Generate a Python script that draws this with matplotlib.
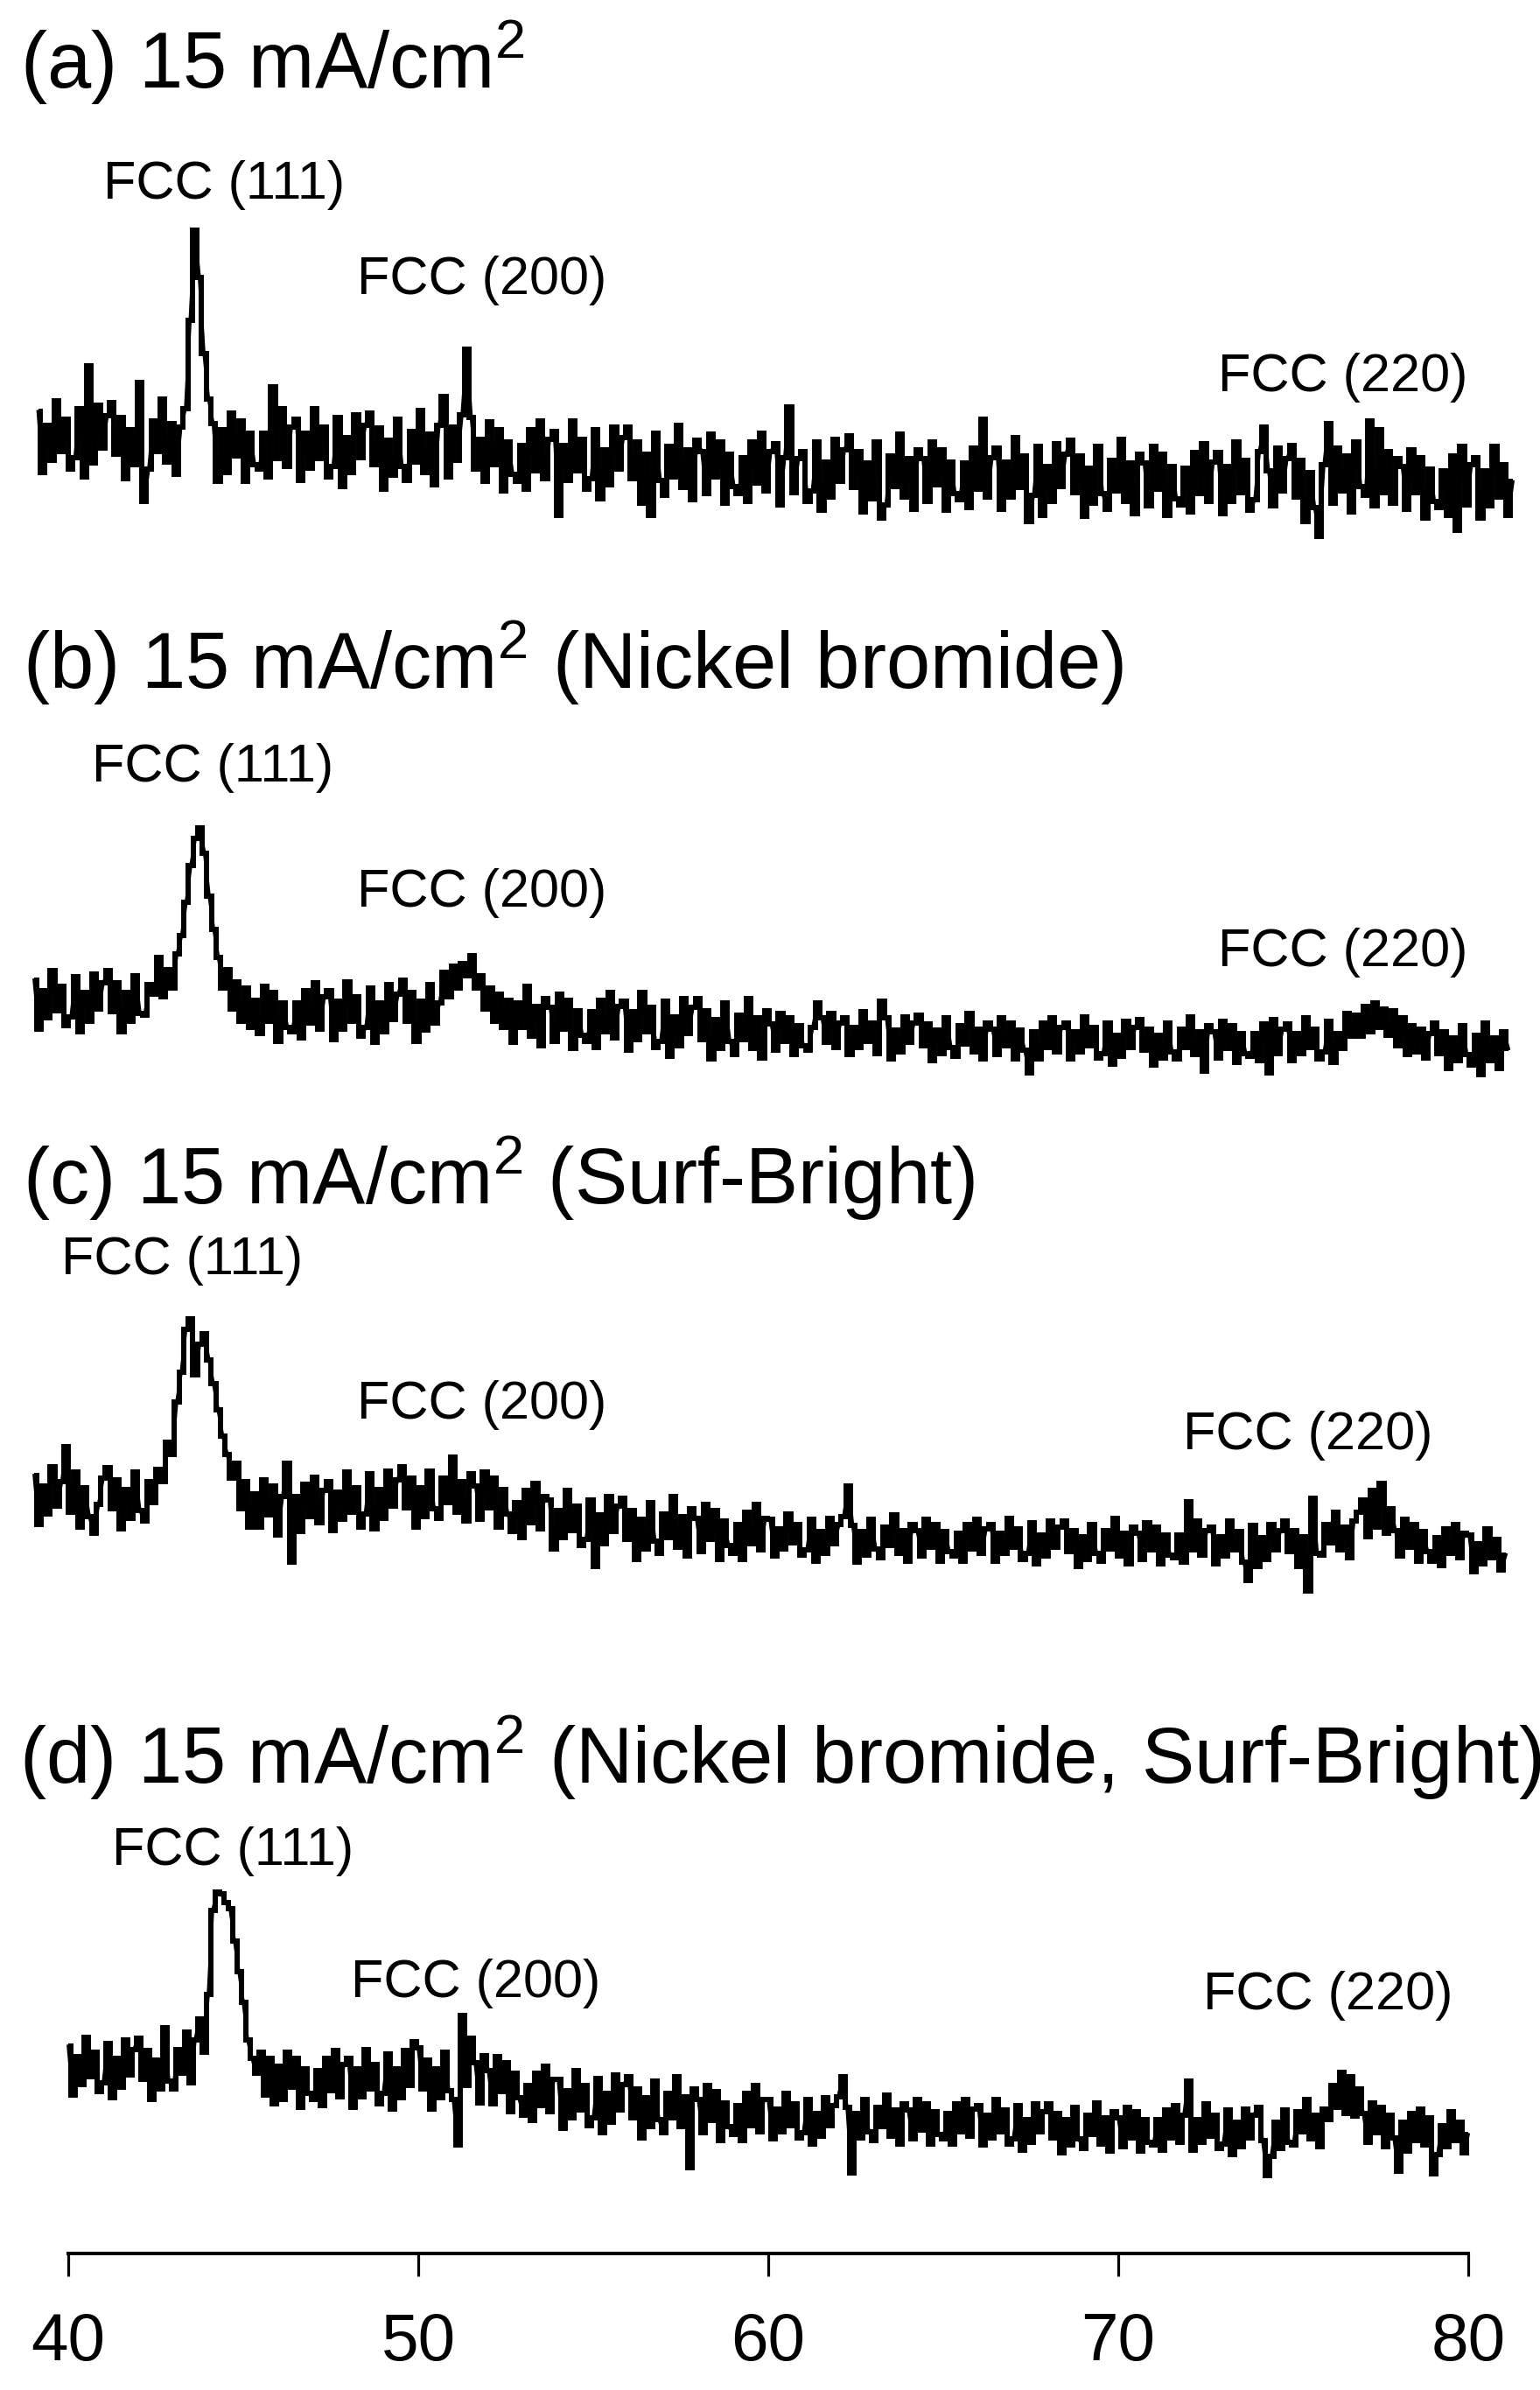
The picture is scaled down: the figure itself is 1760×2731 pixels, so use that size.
import numpy as np
import matplotlib
matplotlib.use("Agg")
import matplotlib.pyplot as plt

plt.rcParams['font.family'] = ['Liberation Sans', 'DejaVu Sans']
plt.rcParams['mathtext.default'] = 'regular'

# ---------------- data (2-theta in degrees, intensity in a.u.) ----------------
two_theta = np.linspace(40, 80, 321)

int_a = [
    90, 50, 81, 58, 97, 64, 85, 52,
    60, 92, 47, 120, 56, 94, 66, 87,
    96, 62, 86, 46, 78, 55, 109, 31,
    52, 84, 64, 98, 57, 82, 49, 80,
    92, 150, 209, 178, 128, 98, 82, 44,
    78, 50, 89, 61, 84, 44, 76, 55,
    52, 76, 47, 106, 59, 92, 54, 80,
    85, 45, 76, 53, 92, 59, 80, 47,
    54, 86, 41, 73, 50, 88, 60, 81,
    89, 55, 79, 39, 71, 48, 85, 54,
    45, 77, 57, 91, 50, 75, 42, 81,
    100, 47, 80, 58, 88, 131, 86, 52,
    72, 44, 83, 55, 78, 38, 70, 49,
    44, 68, 39, 78, 51, 84, 46, 72,
    77, 22, 68, 45, 84, 51, 72, 39,
    46, 78, 33, 65, 42, 80, 52, 73,
    80, 46, 70, 30, 62, 22, 76, 45,
    35, 67, 47, 81, 40, 65, 32, 71,
    64, 36, 75, 47, 70, 30, 62, 41,
    36, 60, 31, 70, 43, 76, 38, 64,
    69, 29, 60, 93, 37, 59, 64, 31,
    38, 70, 25, 57, 34, 72, 44, 65,
    74, 40, 64, 24, 56, 33, 70, 20,
    29, 61, 41, 75, 34, 59, 26, 65,
    59, 31, 70, 42, 65, 25, 57, 36,
    32, 56, 27, 66, 39, 85, 34, 60,
    66, 26, 57, 34, 73, 40, 61, 18,
    35, 67, 22, 54, 31, 69, 41, 62,
    71, 37, 61, 21, 53, 30, 67, 36,
    26, 58, 38, 72, 31, 56, 23, 62,
    56, 28, 67, 39, 62, 22, 54, 33,
    29, 53, 24, 63, 36, 69, 31, 57,
    63, 23, 54, 31, 70, 37, 58, 25,
    32, 64, 80, 51, 28, 66, 38, 59,
    68, 34, 58, 18, 50, 27, 8, 55,
    82, 30, 66, 38, 61, 24, 70, 41,
    35, 84, 28, 78, 37, 64, 30, 59,
    54, 26, 65, 37, 60, 20, 52, 31,
    27, 51, 22, 61, 12, 67, 29, 55,
    60, 20, 51, 28, 67, 34, 55, 22,
    44,
]

int_b = [
    67, 35, 60, 42, 73, 47, 63, 37,
    43, 69, 33, 59, 40, 71, 48, 65,
    73, 46, 65, 33, 59, 40, 70, 45,
    44, 64, 58, 82, 56, 74, 62, 84,
    96, 118, 142, 160, 167, 150, 122, 100,
    82, 62, 74, 48, 66, 40, 62, 36,
    54, 32, 63, 40, 59, 27, 52, 36,
    33, 52, 29, 60, 39, 65, 35, 56,
    60, 28, 53, 35, 66, 40, 56, 30,
    36, 62, 26, 52, 33, 64, 41, 58,
    67, 40, 59, 27, 53, 34, 64, 39,
    52, 72, 56, 76, 62, 78, 70, 83,
    62, 70, 48, 62, 40, 58, 36, 54,
    26, 52, 36, 63, 30, 50, 24, 55,
    49, 27, 58, 35, 54, 22, 47, 31,
    27, 46, 23, 54, 33, 59, 29, 50,
    53, 21, 46, 28, 59, 33, 49, 23,
    27, 53, 17, 43, 24, 55, 32, 49,
    55, 28, 47, 15, 41, 22, 52, 27,
    18, 44, 28, 55, 22, 42, 16, 47,
    38, 21, 45, 27, 42, 18, 37, 24,
    21, 36, 52, 42, 26, 45, 23, 39,
    42, 18, 36, 23, 46, 27, 39, 19,
    53, 42, 15, 34, 20, 43, 26, 39,
    44, 24, 38, 14, 34, 19, 42, 23,
    17, 37, 25, 45, 20, 35, 15, 39,
    35, 18, 42, 24, 39, 15, 34, 21,
    6, 33, 15, 39, 23, 42, 20, 36,
    39, 15, 33, 20, 43, 24, 36, 16,
    19, 39, 12, 31, 17, 40, 23, 36,
    41, 21, 35, 11, 31, 16, 39, 20,
    15, 35, 23, 43, 18, 33, 7, 37,
    33, 16, 40, 22, 37, 13, 32, 19,
    17, 32, 14, 38, 6, 41, 19, 35,
    38, 14, 32, 19, 42, 23, 35, 15,
    20, 40, 13, 32, 22, 45, 30, 44,
    30, 50, 33, 52, 36, 48, 31, 47,
    24, 42, 18, 37, 20, 35, 16, 32,
    39, 19, 33, 9, 29, 14, 37, 18,
    11, 31, 5, 39, 14, 29, 9, 33,
    22,
]

int_c = [
    82, 50, 75, 57, 88, 62, 78, 101,
    58, 84, 48, 74, 55, 44, 63, 80,
    87, 60, 79, 47, 73, 54, 84, 59,
    52, 78, 64, 86, 78, 104, 96, 130,
    150, 178, 185, 148, 168, 175, 158, 142,
    125, 108, 96, 80, 90, 60, 78, 48,
    70, 48, 79, 56, 75, 43, 68, 90,
    25, 68, 45, 76, 55, 81, 51, 72,
    78, 46, 71, 53, 84, 58, 74, 48,
    57, 83, 47, 73, 54, 85, 62, 79,
    88, 61, 80, 48, 74, 55, 85, 60,
    54, 80, 64, 94, 58, 78, 52, 83,
    75, 53, 84, 61, 80, 48, 73, 57,
    45, 64, 41, 72, 51, 77, 47, 68,
    66, 34, 59, 41, 72, 46, 62, 36,
    40, 66, 22, 56, 37, 68, 45, 62,
    67, 40, 59, 27, 53, 34, 64, 39,
    31, 57, 41, 68, 35, 55, 29, 60,
    54, 32, 63, 40, 59, 27, 52, 36,
    31, 50, 27, 58, 37, 63, 33, 54,
    53, 29, 47, 34, 57, 38, 50, 30,
    33, 53, 26, 45, 31, 54, 37, 50,
    55, 75, 49, 25, 45, 30, 53, 34,
    28, 48, 36, 56, 31, 46, 26, 50,
    46, 29, 53, 35, 50, 26, 45, 32,
    29, 44, 26, 50, 34, 53, 31, 47,
    50, 26, 44, 31, 54, 35, 47, 27,
    31, 51, 24, 43, 29, 52, 35, 48,
    52, 32, 46, 22, 42, 27, 50, 31,
    26, 46, 34, 54, 29, 44, 24, 48,
    44, 27, 51, 33, 48, 24, 43, 30,
    28, 43, 25, 65, 33, 52, 30, 46,
    48, 24, 42, 29, 52, 33, 45, 25,
    13, 49, 22, 41, 27, 50, 33, 46,
    52, 32, 46, 22, 42, 6, 67, 31,
    30, 50, 38, 58, 33, 48, 28, 52,
    58, 66, 42, 72, 48, 77, 44, 60,
    46, 29, 53, 35, 50, 26, 45, 32,
    26, 41, 23, 47, 31, 50, 28, 44,
    43, 19, 37, 24, 47, 28, 40, 20,
    30,
]

int_d = [
    136, 104, 129, 111, 142, 116, 132, 106,
    112, 138, 102, 128, 109, 140, 117, 134,
    141, 114, 133, 101, 127, 108, 148, 113,
    108, 134, 118, 145, 112, 140, 154, 132,
    170, 225, 237, 236, 230, 226, 205, 185,
    165, 140, 128, 118, 132, 104, 128, 98,
    123, 101, 132, 109, 128, 96, 121, 105,
    101, 120, 97, 128, 107, 133, 103, 124,
    128, 96, 121, 103, 134, 108, 124, 98,
    105, 131, 95, 121, 102, 133, 110, 139,
    135, 108, 127, 95, 121, 102, 132, 107,
    101, 71, 156, 110, 141, 125, 99, 130,
    120, 98, 129, 106, 125, 93, 118, 102,
    91, 110, 87, 118, 97, 123, 93, 114,
    114, 82, 107, 89, 120, 94, 110, 84,
    89, 115, 79, 105, 86, 117, 94, 111,
    116, 89, 108, 76, 102, 83, 113, 88,
    79, 105, 89, 116, 83, 103, 56, 108,
    101, 79, 110, 87, 106, 74, 99, 83,
    78, 97, 74, 105, 84, 110, 80, 101,
    101, 75, 95, 80, 105, 84, 98, 76,
    79, 101, 72, 92, 77, 102, 84, 97,
    103, 116, 96, 53, 92, 76, 101, 80,
    74, 96, 83, 104, 77, 94, 72, 98,
    94, 75, 101, 81, 98, 72, 93, 78,
    75, 92, 72, 98, 80, 101, 77, 95,
    97, 71, 91, 76, 101, 80, 94, 72,
    75, 97, 68, 88, 73, 98, 80, 93,
    98, 76, 92, 66, 88, 71, 96, 75,
    69, 91, 78, 99, 72, 89, 67, 93,
    89, 70, 96, 76, 93, 67, 88, 73,
    71, 88, 68, 94, 76, 97, 73, 91,
    113, 68, 88, 73, 98, 77, 91, 69,
    72, 94, 65, 86, 70, 95, 76, 91,
    96, 74, 51, 64, 86, 69, 94, 73,
    71, 93, 80, 101, 75, 91, 70, 95,
    88, 110, 96, 119, 92, 116, 90, 108,
    92, 73, 99, 79, 96, 70, 91, 76,
    54, 86, 67, 92, 74, 95, 71, 89,
    52, 65, 84, 70, 93, 74, 86, 66,
    78,
]

titles = [
    "(a) 15 mA/cm$^{2}$",
    "(b) 15 mA/cm$^{2}$ (Nickel bromide)",
    "(c) 15 mA/cm$^{2}$ (Surf-Bright)",
    "(d) 15 mA/cm$^{2}$ (Nickel bromide, Surf-Bright)",
]
peak_labels = ["FCC (111)", "FCC (200)", "FCC (220)"]
x_ticks = [40, 50, 60, 70, 80]

# ---------------- layout ----------------
W, H = 1760, 2731
S = H / 1568.0          # panel unit -> output pixel

fig = plt.figure(figsize=(W / 100, H / 100), dpi=100)
fig.patch.set_facecolor("white")

# (left px, right px, bottom in panel units, height in panel units)
panel_boxes = [
    (43.5, 1729, 360, 220),
    (39, 1724, 710, 180),
    (39, 1721, 1050, 200),
    (78, 1678, 2575 / S, 260),
]
series = [int_a, int_b, int_c, int_d]

axes = []
for (xl, xr, ybot, hh), yv in zip(panel_boxes, series):
    ax = fig.add_axes([xl / W, 1 - ybot * S / H, (xr - xl) / W, hh * S / H])
    ax.plot(two_theta, yv, color="black", lw=4.3, clip_on=False,
            drawstyle="steps-mid", solid_joinstyle="miter",
            solid_capstyle="butt")
    ax.plot(two_theta, yv, color="black", lw=2.6, clip_on=False)
    ax.set_xlim(40, 80)
    ax.set_ylim(0, hh)
    ax.patch.set_alpha(0)
    axes.append(ax)

for ax in axes[:3]:
    ax.axis("off")

axd = axes[3]
for side in ("left", "top", "right"):
    axd.spines[side].set_visible(False)
axd.spines["bottom"].set_linewidth(2.9)
axd.set_yticks([])
axd.set_xticks(x_ticks)
axd.set_xticklabels([str(t) for t in x_ticks])
axd.tick_params(axis="x", direction="out", length=18.5, width=2.3,
                pad=30, labelsize=55)

# titles (left px, baseline px)
title_pos = [(23, 101), (26, 787), (26, 1376), (22, 2038)]
for t, (px, py) in zip(titles, title_pos):
    fig.text(px / W, 1 - py / H, t, fontsize=65, ha="left", va="baseline")

# peak labels (left px, baseline px) per panel
label_pos = [
    [(118, 227), (408, 336), (1392, 447)],
    [(105, 893), (408, 1036), (1392, 1104)],
    [(70, 1456), (408, 1621), (1352, 1656)],
    [(128, 2131), (401, 2282), (1375, 2296)],
]
for row in label_pos:
    for lab, (px, py) in zip(peak_labels, row):
        fig.text(px / W, 1 - py / H, lab, fontsize=44, ha="left", va="baseline")

fig.savefig("out.png", dpi=100, facecolor="white")
